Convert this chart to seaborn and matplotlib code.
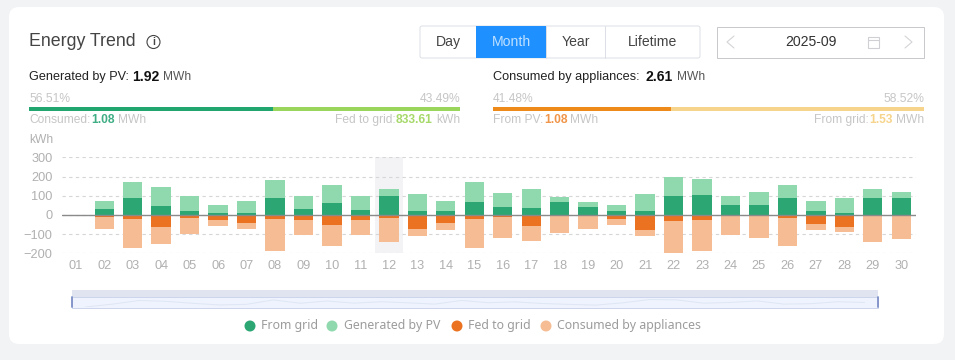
import matplotlib
matplotlib.use("Agg")
import matplotlib.pyplot as plt
from matplotlib.patches import FancyBboxPatch, Rectangle, Circle
import pandas as pd
import seaborn as sns

days = ["01","02","03","04","05","06","07","08","09","10","11","12","13","14","15",
        "16","17","18","19","20","21","22","23","24","25","26","27","28","29","30"]
from_grid = [0,33,88,44,18,12,12,86,32,63,23,96,18,18,65,42,37,65,39,18,18,96,104,54,54,86,18,11,89,86]
generated_top = [0,74,170,147,96,53,70,184,98,156,100,137,109,75,170,112,133,91,68,49,109,195,186,100,118,158,75,86,137,118]
fed_to_grid = [0,-9,-21,-61,-18,-25,-44,-23,-28,-53,-28,-18,-74,-40,-23,-12,-56,-5,-4,-19,-77,-32,-28,-7,-5,-14,-46,-61,-7,-4]
consumed_bottom = [0,-75,-174,-149,-98,-56,-74,-189,-103,-160,-105,-139,-112,-77,-174,-118,-137,-95,-72,-51,-112,-198,-189,-105,-121,-161,-79,-91,-140,-123]
y_ticks = [300,200,100,0,-100,-200]
legend_labels = ["From grid","Generated by PV","Fed to grid","Consumed by appliances"]
buttons = ["Day","Month","Year","Lifetime"]

C_GRID,C_PV,C_FED,C_CONS = "#2ca673","#90d8ae","#ea7220","#f6bd94"
W,H = 955,360
SANS = ["Liberation Sans","DejaVu Sans"]
sns.set_theme(style="white")
plt.rcParams["font.family"] = SANS
def fs(p): return p*72/100

fig = plt.figure(figsize=(W/100,H/100),dpi=100,facecolor="#f2f3f5")
ui = fig.add_axes([0,0,1,1],zorder=0)
ui.set_xlim(0,W); ui.set_ylim(H,0); ui.axis("off")
ui.add_patch(FancyBboxPatch((9,7),935,337,boxstyle="round,pad=0,rounding_size=10",fc="white",ec="none"))
def T(x,y,s,size=12,c="#333333",ha="left",w="normal",**k):
    return ui.text(x,y,s,fontsize=fs(size),color=c,ha=ha,va="center",fontweight=w,**k)
T(29,42,"Energy Trend",size=17.8,c="#444444")
ui.add_patch(Circle((153.5,42),6.5,fc="none",ec="#444444",lw=0.8))
T(153.5,42,"i",size=10,c="#444444",ha="center",w="bold")

# Period buttons
xs=[420,476,546,605,700]
ui.add_patch(FancyBboxPatch((420,26),280,32,boxstyle="round,pad=0,rounding_size=2",fc="white",ec="#dcdfe6",lw=0.7))
for i,b in enumerate(buttons):
    if b=="Month":
        ui.add_patch(Rectangle((xs[i],26),xs[i+1]-xs[i],32,fc="#1e90ff",ec="none"))
    elif i>1:
        ui.plot([xs[i]]*2,[26,58],color="#dcdfe6",lw=0.7)
    T((xs[i]+xs[i+1])/2,42,b,size=14,c="#bfe0ff" if b=="Month" else "#444444",ha="center")
ui.add_patch(Rectangle((716.5,26.5),207,31,fc="white",ec="#c8c8cc",lw=0.7))
T(811,42,"2025-09",size=14,c="#333333",ha="center")
ui.plot([734,727,734],[36,42,48],color="#d4d4d8",lw=0.8)
ui.plot([905,912,905],[36,42,48],color="#d4d4d8",lw=0.8)
ui.add_patch(Rectangle((868,37),11,11,fc="none",ec="#d0d0d4",lw=0.8))
ui.plot([868,879],[40,40],color="#d0d0d4",lw=0.8)

# Summaries
GREY="#c6c6c6"
T(29,77,"Generated by PV:",size=12.6,c="#222222")
T(132,77,"1.92",size=14,c="#111111",w="bold"); T(163,77,"MWh",size=12,c="#555555")
T(29,99,"56.51%",size=12,c=GREY); T(460,99,"43.49%",size=12,c=GREY,ha="right")
ui.add_patch(Rectangle((29,107),244,4,fc="#22a66f",ec="none"))
ui.add_patch(Rectangle((273,107),187,4,fc="#9ad65c",ec="none"))
T(29,120,"Consumed:",size=12,c=GREY); T(91,120,"1.08",size=12,c="#3fae85",w="bold"); T(118,120,"MWh",size=12,c=GREY)
T(460,120,"kWh",size=12,c=GREY,ha="right"); T(432,120,"833.61",size=12,c="#a6d96a",ha="right",w="bold")
T(396,120,"Fed to grid:",size=12,c=GREY,ha="right")

T(493,77,"Consumed by appliances:",size=12.8,c="#222222")
T(645,77,"2.61",size=14,c="#111111",w="bold"); T(677,77,"MWh",size=12,c="#555555")
T(493,99,"41.48%",size=12,c=GREY); T(924,99,"58.52%",size=12,c=GREY,ha="right")
ui.add_patch(Rectangle((493,107),178,4,fc="#ee8a1a",ec="none"))
ui.add_patch(Rectangle((671,107),253,4,fc="#f6d48c",ec="none"))
T(493,120,"From PV:",size=12,c=GREY); T(544,120,"1.08",size=12,c="#f0954a",w="bold"); T(570,120,"MWh",size=12,c=GREY)
T(924,120,"MWh",size=12,c=GREY,ha="right"); T(893,120,"1.53",size=12,c="#f6d48c",ha="right",w="bold")
T(869,120,"From grid:",size=12,c=GREY,ha="right")

# Chart
left,right,top,bottom = 61.5,915.5,157.3,253.3
ax = fig.add_axes([left/W,1-bottom/H,(right-left)/W,(bottom-top)/H],zorder=1)
ax.patch.set_alpha(0)
ax.axvspan(10.5,11.5,color="#f3f2f5",lw=0,zorder=0)
frame = pd.DataFrame({"day":days,"grid":from_grid,"pv":generated_top,"fed":fed_to_grid,"cons":consumed_bottom})
for col,color in [("pv",C_PV),("grid",C_GRID),("cons",C_CONS),("fed",C_FED)]:
    sns.barplot(data=frame,x="day",y=col,color=color,width=0.68,saturation=1,ax=ax,zorder=3,linewidth=0,edgecolor="none")
ax.set_xlim(-0.5,29.5); ax.set_ylim(-200,300)
ax.set_yticks(y_ticks)
ax.set_xlabel(""); ax.set_ylabel("")
ax.grid(axis="y",color="#d6d6d6",ls=(0,(3,3)),lw=0.8,zorder=1); ax.set_axisbelow(True)
ax.axhline(0,color="#8a8a8a",lw=1.0,zorder=5)
sns.despine(ax=ax,left=True,bottom=True)
ax.tick_params(axis="both",length=0,labelcolor="#b0b0b0",labelsize=fs(12.8))
ax.tick_params(axis="y",pad=6.5); ax.tick_params(axis="x",pad=4.5)
T(29,140,"kWh",size=12,c="#b0b0b0")

# Slider
ui.add_patch(Rectangle((72,290),806,7,fc="#e0e3f0",ec="none"))
ui.add_patch(Rectangle((72,297),806,10.5,fc="#eef3fd",ec="#c4cfe8",lw=0.6))
ui.plot([72,72],[297,307],color="#7f90c8",lw=1.3); ui.plot([878,878],[297,307],color="#7f90c8",lw=1.3)
sl = fig.add_axes([72/W,1-307/H,806/W,10/H],zorder=1)
sl.patch.set_alpha(0)
sns.lineplot(data=frame,x="day",y="pv",color="#dfe6f4",lw=0.7,ax=sl)
sl.set_xlim(-0.5,29.5); sl.set_ylim(0,260); sl.axis("off")

# Legend
for x,tx,lab,c in zip([250,332,457,546],[261,344,468,557],legend_labels,[C_GRID,C_PV,C_FED,C_CONS]):
    ui.add_patch(Circle((x,326),5.5,fc=c,ec="none"))
    ui.text(tx,326,lab,fontsize=fs(12.3),color="#9c9c9c",va="center",family=["Noto Sans","DejaVu Sans"])
fig.savefig("out.png",dpi=100,facecolor=fig.get_facecolor())
